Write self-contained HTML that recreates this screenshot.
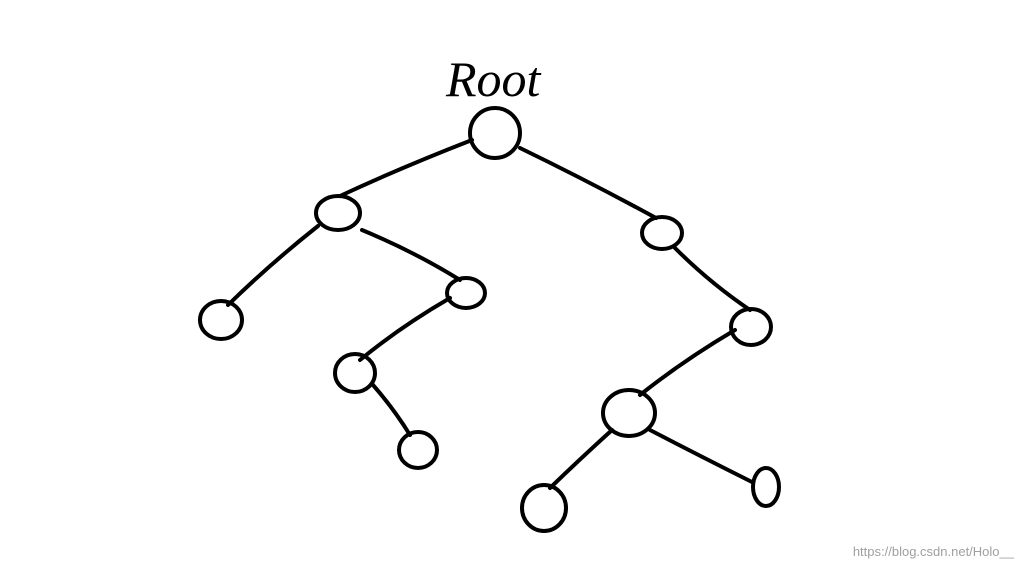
<!DOCTYPE html>
<html><head><meta charset="utf-8"><style>
html,body{margin:0;padding:0;background:#fff;}
svg{display:block;}
</style></head><body>
<svg width="1031" height="568" viewBox="0 0 1031 568" xmlns="http://www.w3.org/2000/svg">
<rect width="1031" height="568" fill="#fff"/>
<text x="446" y="96" font-family="Liberation Serif, serif" font-style="italic" font-size="50" fill="#000">Root</text>
<g fill="none" stroke="#000" stroke-width="4" stroke-linecap="round">
<circle cx="495" cy="133" r="25"/>
<ellipse cx="338" cy="213" rx="22" ry="17"/>
<ellipse cx="662" cy="233" rx="20" ry="16"/>
<ellipse cx="221" cy="320" rx="21" ry="19"/>
<ellipse cx="466" cy="293" rx="19" ry="15"/>
<ellipse cx="355" cy="373" rx="20" ry="19"/>
<ellipse cx="418" cy="450" rx="19" ry="18"/>
<ellipse cx="751" cy="327" rx="20" ry="18"/>
<ellipse cx="629" cy="413" rx="26" ry="23"/>
<ellipse cx="544" cy="508" rx="22" ry="23"/>
<ellipse cx="766" cy="487" rx="13" ry="19"/>
<path d="M472 140 Q400 168 340 196"/>
<path d="M520 148 Q590 182 656 218"/>
<path d="M318 226 Q270 264 228 305"/>
<path d="M362 230 Q415 252 460 280"/>
<path d="M450 298 Q400 327 360 360"/>
<path d="M373 385 Q394 409 410 435"/>
<path d="M675 248 Q710 283 750 310"/>
<path d="M735 330 Q684 360 640 395"/>
<path d="M612 430 Q580 459 550 488"/>
<path d="M650 430 Q700 456 752 482"/>
</g>
<text x="1014" y="556" text-anchor="end" font-family="Liberation Sans, sans-serif" font-size="13" fill="#a0a0a0">https://blog.csdn.net/Holo__</text>
</svg>
</body></html>
